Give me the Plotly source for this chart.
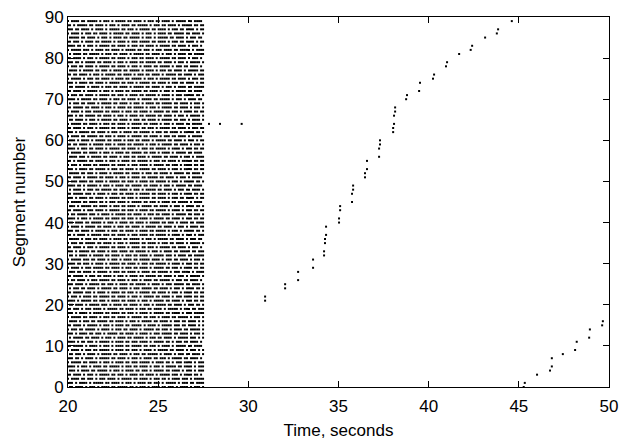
import plotly.graph_objects as go

# ---- data ----
# times (s) of the regular packet columns in the initial burst
COLUMN_TIMES = [20.00, 20.11, 20.22, 20.34, 20.45, 20.56, 20.67, 20.78, 20.89, 21.01,
                21.12, 21.23, 21.34, 21.45, 21.57, 21.68, 21.79, 21.90, 22.01, 22.12,
                22.24, 22.35, 22.46, 22.57, 22.68, 22.80, 22.91, 23.02, 23.13, 23.24,
                23.35, 23.47, 23.58, 23.69, 23.80, 23.91, 24.02, 24.14, 24.25, 24.36,
                24.47, 24.58, 24.70, 24.81, 24.92, 25.03, 25.14, 25.25, 25.37, 25.48,
                25.59, 25.70, 25.81, 25.93, 26.04, 26.15, 26.26, 26.37, 26.48, 26.60,
                26.71, 26.82, 26.93, 27.04, 27.16, 27.27, 27.38, 27.49]

# per segment (0..89): run lengths of received packets, each run separated by one gap
SEGMENT_RUNS = [
    "0241314252131423141325", "3141524131423151324142", "1423134152413214315241",
    "2413152314241531421341", "0314251314231524131421", "4131425132413152413142",
    "1524131423514213415231", "3214152413142315241314", "0231415241325141324152",
    "1413251423141524131524", "2514131425231415241313", "4123151423415213241531",
    "0152413142513241531424", "3142315241413524131425", "1325141324152314251413",
    "2415131425141532414231", "0413252413152413241531", "1524132415231425131424",
    "3141524231415241352413", "2313415241324151324142", "0241531424131524132415",
    "4152314241315241324131", "1314252413152413425131", "2531414231524131425241",
    "0132415241352413142513", "3415231425141352413241", "1241352413142513241524",
    "2513241314252413152413", "0324151324142513415231", "1413524132415231425143",
    "4231415241325141324152", "1532413142541324131525", "0214152413241531425132",
    "3152413425131425241314", "2413152414231524131425", "1325241315241324152413",
    "0513241425131524132414", "2141532413425141315242", "3241513241425131524132",
    "1415241324152413142531", "0242513142415231425141", "4131524231415241325132",
    "1253141524132415231424", "2413415231425141324152", "0315241324152413142513",
    "1524213415231425141324", "3142415231524132415241", "2531413241524131425231",
    "0141325241315241324152", "4215131425241315241324", "1342415231425131524141",
    "2415241314252413152413", "0523141524132415241314", "3142513241524131425231",
    "1314252413415231425141", "2152413142513241524132", "0431524132415241314252",
    "1524131425231415241324", "4132415241325141324151", "2241531425131524132415",
    "0314152413241524131425", "1425231415241324152413", "3152413142513241524131",
    "2413152414231524132415", "1524132415241314252413", "0241315241324152314251",
    "3125241314252413152413", "1413524132415231425141", "2524131425131524132415",
    "0132415241314252413152", "4152413241525131424151", "1324152314251413524132",
    "2415131425241315241324", "0251413241524131425231", "3142415231524132415241",
    "1513241425131524132414", "2241315241324152413142", "0415231425141324152413",
    "1324152413142513241524", "3215241314252413152413", "2413152413241524131425",
    "0142513241524131425241", "1531424152313425141324", "4213152413241524131425",
    "2314251413524132415231", "0524131425131524132414", "1413241524131425241315",
    "3241415231524132415241", "2152413142513241524131", "1425131524132415241314",
]

# later, isolated packet arrivals (time s, segment)
LATE_TIMES = [27.82, 28.43, 29.63,
              30.93, 30.93, 32.04, 32.04, 32.76, 32.76, 33.59, 33.59,
              34.20, 34.20, 34.25, 34.25, 34.31, 34.31, 35.03, 35.03, 35.09, 35.09,
              35.75, 35.75, 35.81, 35.81, 36.47, 36.47, 36.58, 36.58,
              37.25, 37.25, 37.30, 37.30, 38.03, 38.03, 38.08, 38.08, 38.14, 38.14,
              38.75, 38.80, 39.47, 39.52, 40.24, 40.30, 40.96, 41.02, 41.69,
              42.33, 42.41, 43.13, 43.78, 43.85, 44.61,
              45.27, 45.33, 46.01, 46.73, 46.83, 46.83, 47.44, 48.12, 48.21,
              48.90, 48.94, 49.62, 49.66]
LATE_SEGMENTS = [64, 64, 64,
                 21, 22, 24, 25, 26, 28, 29, 31,
                 32, 33, 35, 36, 37, 39, 40, 41, 43, 44,
                 45, 47, 48, 49, 51, 52, 53, 55,
                 56, 58, 59, 60, 62, 63, 64, 66, 67, 68,
                 70, 71, 72, 74, 75, 76, 78, 79, 81,
                 82, 83, 85, 86, 87, 89,
                 0, 1, 3, 4, 5, 7, 8, 9, 11,
                 12, 14, 15, 16]

X_TICKS = [20, 25, 30, 35, 40, 45, 50]
Y_TICKS = [0, 10, 20, 30, 40, 50, 60, 70, 80, 90]

# ---- expand burst runs into points ----
bx, by = [], []
for seg, runs in enumerate(SEGMENT_RUNS):
    col = 0
    for ch in runs:
        n = int(ch)
        for _ in range(n):
            if col < len(COLUMN_TIMES):
                bx.append(COLUMN_TIMES[col])
                by.append(seg)
            col += 1
        col += 1  # gap

xs = bx + LATE_TIMES
ys = by + LATE_SEGMENTS

FONT = "Liberation Sans, Arial, Helvetica, sans-serif"
FS = 17

fig = go.Figure()
fig.add_trace(go.Scatter(
    x=xs, y=ys, mode="markers",
    marker=dict(symbol="square", size=2, color="black", line=dict(width=0)),
    cliponaxis=False, hoverinfo="skip", showlegend=False,
))

axis_common = dict(
    showline=True, linecolor="black", linewidth=1, mirror="allticks",
    ticks="inside", ticklen=6, tickwidth=1, tickcolor="black",
    showgrid=False, zeroline=False,
    tickfont=dict(family=FONT, size=FS, color="black"),
)

fig.update_xaxes(range=[20, 50], tickvals=X_TICKS, ticktext=[str(v) for v in X_TICKS],
                 ticklabelstandoff=4,
                 title=dict(text="Time, seconds", font=dict(family=FONT, size=FS, color="black"),
                            standoff=8),
                 **axis_common)
fig.update_yaxes(range=[0, 90], tickvals=Y_TICKS, ticktext=[str(v) for v in Y_TICKS],
                 title=dict(text="Segment number", font=dict(family=FONT, size=FS, color="black"),
                            standoff=14),
                 **axis_common)

fig.update_layout(
    width=621, height=443,
    margin=dict(l=68, r=12, t=17, b=56, autoexpand=False),
    plot_bgcolor="white", paper_bgcolor="white",
    font=dict(family=FONT, size=FS, color="black"),
)

fig.write_html("out.html",
               config={"displayModeBar": False},
               post_script="document.body.style.margin='0px';document.body.style.overflow='hidden';")
